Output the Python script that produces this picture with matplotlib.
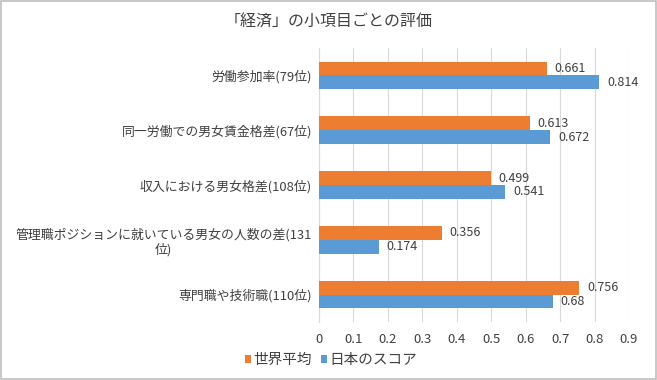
import numpy as np
import matplotlib.pyplot as plt
from matplotlib.patches import Rectangle

plt.rcParams['font.family'] = ['Noto Sans CJK JP', 'DejaVu Sans']

categories = ['労働参加率(79位)', '同一労働での男女賃金格差(67位)', '収入における男女格差(108位)',
              '管理職ポジションに就いている男女の人数の差(131\n位)', '専門職や技術職(110位)']
world_avg = [0.661, 0.613, 0.499, 0.356, 0.756]
japan = [0.814, 0.672, 0.541, 0.174, 0.68]
world_labels = ['0.661', '0.613', '0.499', '0.356', '0.756']
japan_labels = ['0.814', '0.672', '0.541', '0.174', '0.68']

orange = '#ED7D31'
blue = '#5B9BD5'
txt = '#404040'

fig = plt.figure(figsize=(6.57, 3.8), dpi=100)
ax = fig.add_axes([0.4855, 0.1526, 0.4719, 0.7211])

y = np.arange(len(categories))[::-1].astype(float)
h = 0.25
ax.barh(y + h / 2, world_avg, height=h, color=orange, label='世界平均', zorder=3)
ax.barh(y - h / 2, japan, height=h, color=blue, label='日本のスコア', zorder=3)

for yi, v, s in zip(y, world_avg, world_labels):
    ax.text(v + 0.022, yi + h / 2, s, va='center', ha='left', fontsize=9, color=txt)
for yi, v, s in zip(y, japan, japan_labels):
    ax.text(v + 0.022, yi - h / 2, s, va='center', ha='left', fontsize=9, color=txt)

ax.set_xlim(0, 0.9)
ax.set_ylim(-0.5, 4.5)
ax.set_xticks(np.arange(0, 0.91, 0.1))
ax.set_xticklabels(['0', '0.1', '0.2', '0.3', '0.4', '0.5', '0.6', '0.7', '0.8', '0.9'])
ax.set_yticks(y)
ax.set_yticklabels(categories, fontsize=9.3, color=txt, multialignment='center')
ax.tick_params(axis='x', labelsize=9.5, colors=txt, length=0, pad=8)
ax.tick_params(axis='y', length=0, pad=5)
ax.grid(axis='x', color='#D9D9D9', linewidth=0.8, zorder=0)
for s in ['top', 'right', 'bottom']:
    ax.spines[s].set_visible(False)
ax.spines['left'].set_color('#D9D9D9')

fig.text(0.5, 0.942, '「経済」の小項目ごとの評価', ha='center', va='center', fontsize=11.5, color=txt)

fig.legend(loc='center', bbox_to_anchor=(0.504, 0.053), ncol=2, frameon=False,
           fontsize=10.5, handlelength=0.45, handleheight=0.45, handletextpad=0.15,
           columnspacing=0.6, labelcolor=txt)

fig.patches.append(Rectangle((0.002, 0.003), 0.996, 0.994, transform=fig.transFigure,
                             fill=False, edgecolor='#BFBFBF', linewidth=1.2))

fig.savefig('out.png', dpi=100)
